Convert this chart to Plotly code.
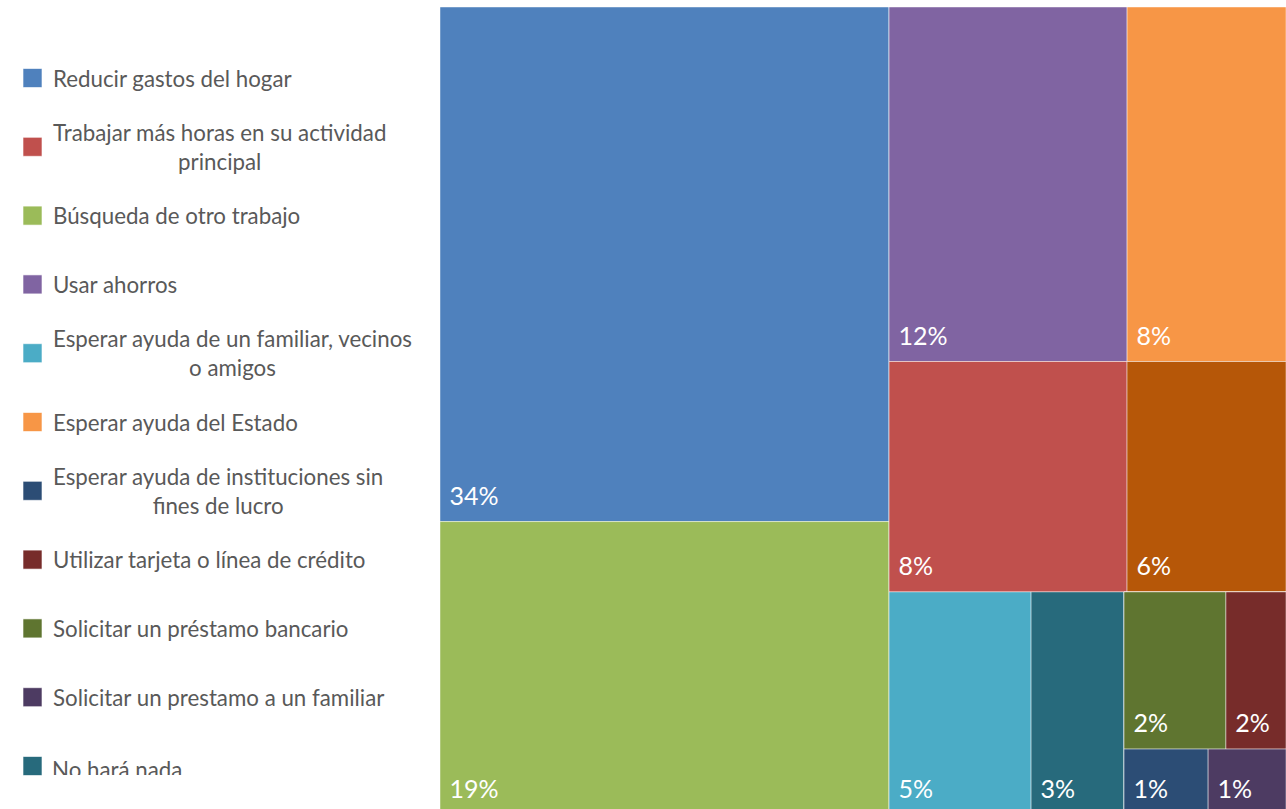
import plotly.graph_objects as go

# ---------------- data ----------------
# tile order (as arranged in the treemap)
categories = [
    "Reducir gastos del hogar",
    "Búsqueda de otro trabajo",
    "Usar ahorros",
    "Esperar ayuda del Estado",
    "Trabajar más horas en su actividad principal",
    "Otro",
    "Esperar ayuda de un familiar, vecinos o amigos",
    "No hará nada",
    "Solicitar un préstamo bancario",
    "Utilizar tarjeta o línea de crédito",
    "Esperar ayuda de instituciones sin fines de lucro",
    "Solicitar un prestamo a un familiar",
]
pct_labels = ["34%", "19%", "12%", "8%", "8%", "6%", "5%", "3%", "2%", "2%", "1%", "1%"]
# relative tile areas
tile_size = [33.76, 19.25, 12.33, 8.23, 8.01, 5.35, 4.63, 3.03, 2.34, 1.38, 0.81, 0.75]
tile_colors = ["#4F81BD", "#9BBB59", "#8064A2", "#F79646", "#C0504D", "#B65708",
               "#4BACC6", "#276A7C", "#5F7530", "#772C2A", "#2C4D75", "#4D3B62"]

# grouping of tiles (slice / dice structure of the treemap)
tile_tree = ("root", [
    ("col1", [0, 1]),
    ("col2", [
        ("row1", [2, 3]),
        ("row2", [4, 5]),
        ("row3", [6, 7, ("blk", [("blk_top", [8, 9]), ("blk_bot", [10, 11])])]),
    ]),
])

# legend (in the order shown)
legend_text = [
    "Reducir gastos del hogar",
    "Trabajar más horas en su actividad<br>principal",
    "Búsqueda de otro trabajo",
    "Usar ahorros",
    "Esperar ayuda de un familiar, vecinos<br>o amigos",
    "Esperar ayuda del Estado",
    "Esperar ayuda de instituciones sin<br>fines de lucro",
    "Utilizar tarjeta o línea de crédito",
    "Solicitar un préstamo bancario",
    "Solicitar un prestamo a un familiar",
    "No hará nada",
]
legend_colors = ["#4F81BD", "#C0504D", "#9BBB59", "#8064A2", "#4BACC6", "#F79646",
                 "#2C4D75", "#772C2A", "#5F7530", "#4D3B62", "#276A7C"]

# ---------------- build treemap nodes ----------------
ids, parents, values, colors, texts, labels = [], [], [], [], [], []

LABEL_FMT = ("<span style='font-size:25px'> {}</span>"
             "<br><span style='color:rgba(0,0,0,0)'>.</span>")


def walk(node, parent):
    if isinstance(node, int):
        ids.append("leaf%d" % node)
        parents.append(parent)
        values.append(tile_size[node])
        colors.append(tile_colors[node])
        texts.append(LABEL_FMT.format(pct_labels[node]))
        labels.append(categories[node])
        return
    name, children = node
    ids.append(name)
    parents.append(parent)
    values.append(0)
    colors.append("#FFFFFF")
    texts.append("")
    labels.append(name)
    for c in children:
        walk(c, name)


walk(tile_tree, "")

# the original picture is cropped at the bottom (809 px visible of ~815)
W, H = 1286, 815
fig = go.Figure()
fig.add_trace(go.Treemap(
    ids=ids, parents=parents, values=values, labels=labels, text=texts,
    branchvalues="remainder", sort=False,
    textinfo="text", textposition="bottom left",
    textfont=dict(family="Lato", size=9, color="white"),
    marker=dict(colors=colors, depthfade=False,
                line=dict(color="rgba(255,255,255,0.45)", width=1),
                pad=dict(t=0, l=0, r=0, b=0)),
    tiling=dict(packing="slice-dice", pad=0),
    pathbar=dict(visible=False),
    hoverinfo="label",
    domain=dict(x=[440 / W, 1], y=[0, 1 - 7 / H]),
))

shapes = []
annotations = []
step = 68.8
for i, (t, c) in enumerate(zip(legend_text, legend_colors)):
    yc = 78 + i * step
    shapes.append(dict(type="rect", xref="paper", yref="paper",
                       x0=23 / W, x1=42 / W, y0=1 - (yc + 9.5) / H, y1=1 - (yc - 9.5) / H,
                       fillcolor=c, line=dict(color="rgba(255,255,255,0.6)", width=1)))
    ann = dict(xref="paper", yref="paper", x=51 / W, y=1 - yc / H,
               xanchor="left", yanchor="middle", align="center",
               text=t, showarrow=False,
               font=dict(family="Lato", size=22.3, color="#595959"))
    if i == len(legend_text) - 1:
        # last legend entry is clipped at the bottom in the original
        ann.update(yanchor="top", y=1 - 755 / H, height=19, valign="top", borderpad=0)
    annotations.append(ann)

fig.update_layout(
    width=W, height=H,
    margin=dict(l=0, r=0, t=0, b=0),
    paper_bgcolor="white", plot_bgcolor="white",
    shapes=shapes, annotations=annotations,
    showlegend=False,
)

fig.write_html("out.html", config={"displayModeBar": False},
               post_script="document.body.style.margin='0';"
                           "document.body.style.overflow='hidden';"
                           "document.documentElement.style.overflow='hidden';")
